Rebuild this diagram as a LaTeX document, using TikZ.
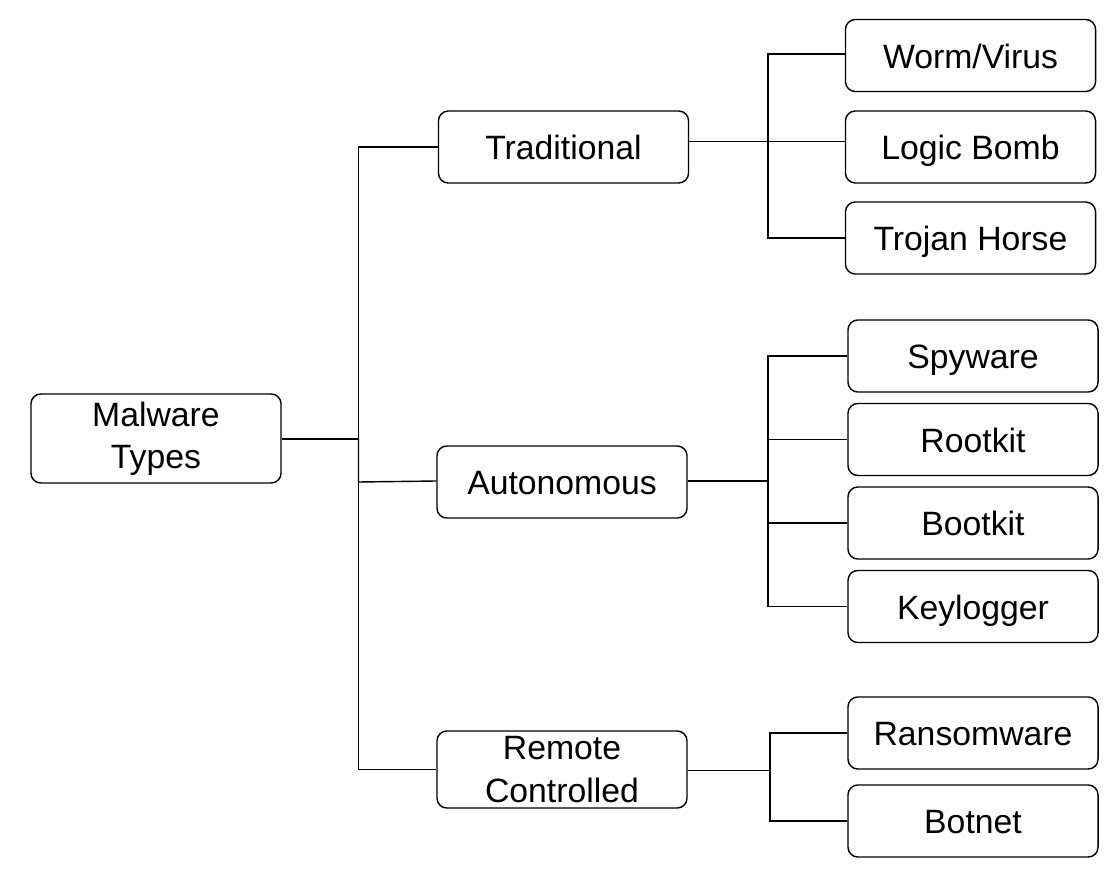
\documentclass[tikz,border=0pt]{standalone}
\usepackage{fontspec}
\setmainfont{Liberation Sans}
\usepackage{tikz}
\usetikzlibrary{positioning}

\tikzset{
	box/.style={draw, line width=1pt, rounded corners=7pt, minimum width=6.25cm,
		minimum height=1.8cm, align=center, font=\fontsize{24}{30}\selectfont},
	onel/.style={box, text height=19pt, text depth=1pt},
	link/.style={line width=1pt}
}

\begin{document}
\begin{tikzpicture}[x=0.025cm, y=-0.025cm]
	\useasboundingbox (0,0) rectangle (1116,878);

	\node[box, minimum height=2.225cm] (mt) at (156, 438.5) {Malware\\Types};
	\node[onel] (trad) at (563.5, 147) {Traditional};
	\node[onel] (auto) at (562, 482) {Autonomous};
	\node[box, minimum height=1.925cm] (remote) at (562, 769.5) {Remote\\Controlled};

	\node[onel] (worm) at (970.5, 55.5) {Worm/Virus};
	\node[onel] (logic) at (970.5, 147) {Logic Bomb};
	\node[onel] (trojan) at (970.5, 238) {Trojan Horse};

	\node[onel] (spy) at (973, 356) {Spyware};
	\node[onel] (root) at (973, 439.5) {Rootkit};
	\node[onel] (boot) at (973, 523) {Bootkit};
	\node[onel] (key) at (973, 606.5) {Keylogger};

	\node[onel] (ransom) at (973, 733) {Ransomware};
	\node[onel] (bot) at (973, 821) {Botnet};

	% junctions
	\coordinate (mj) at (358.5, 439);
	\coordinate (tj) at (768, 141.5);
	\coordinate (aj) at (768, 481);
	\coordinate (rj) at (770, 770.5);

	\draw[link] (mt.east |- mj) -- (mj);
	\draw[link] (mj) |- (trad.west);
	\draw[link] (mj) |- (remote.west);
	\draw[link] (mj) -- (mj |- auto.west) -- (auto.west |- 0,481);

	\draw[link] (trad.east |- tj) -- (tj) -- (logic.west |- tj);
	\draw[link] (tj) |- (worm.west |- 0,54);
	\draw[link] (tj) |- (trojan.west);

	\draw[link] (auto.east |- aj) -- (aj);
	\draw[link] (aj) |- (spy.west);
	\draw[link] (aj) |- (key.west);
	\draw[link] (aj |- root.west) -- (root.west);
	\draw[link] (aj |- boot.west) -- (boot.west);

	\draw[link] (remote.east |- rj) -- (rj);
	\draw[link] (rj) |- (ransom.west);
	\draw[link] (rj) |- (bot.west);
\end{tikzpicture}
\end{document}
